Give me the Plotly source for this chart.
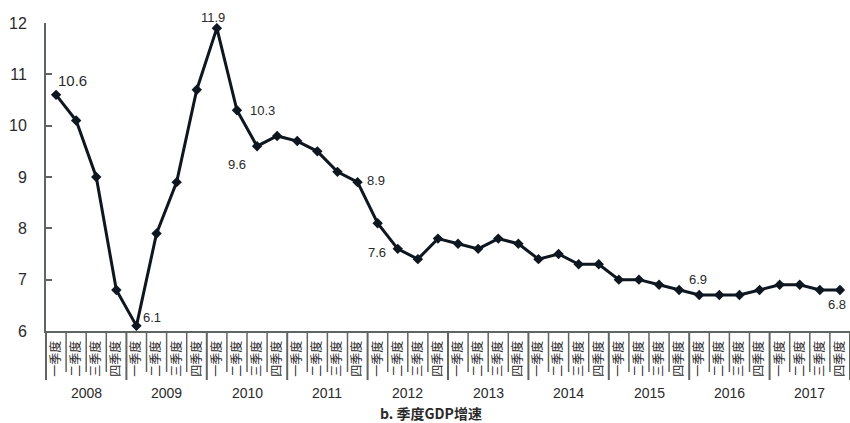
import plotly.graph_objects as go

# Quarterly GDP growth (%), 2008 Q1 – 2017 Q4
years = ["2008", "2009", "2010", "2011", "2012", "2013", "2014", "2015", "2016", "2017"]
quarters = ["一季度", "二季度", "三季度", "四季度"]
growth = [
    10.6, 10.1, 9.0, 6.8,
    6.1, 7.9, 8.9, 10.7,
    11.9, 10.3, 9.6, 9.8,
    9.7, 9.5, 9.1, 8.9,
    8.1, 7.6, 7.4, 7.8,
    7.7, 7.6, 7.8, 7.7,
    7.4, 7.5, 7.3, 7.3,
    7.0, 7.0, 6.9, 6.8,
    6.7, 6.7, 6.7, 6.8,
    6.9, 6.9, 6.8, 6.8,
]
# (index of quarter, shown text, x offset px, y offset px)
labelled = [
    (0, "10.6", 16, 14),
    (4, "6.1", 16, 8),
    (8, "11.9", -4, 11),
    (9, "10.3", 26, 0),
    (10, "9.6", -20, -18),
    (15, "8.9", 18, 2),
    (17, "7.6", -21, -4),
    (30, "6.9", 39, 5),
    (39, "6.8", -3, -15),
]

n = len(growth)
idx = list(range(n))
tick_text = [q for _ in years for q in quarters]

W, H = 850, 423
ML, MR, MT, MB = 46, 0, 23, 92
plot_h = H - MT - MB

grey = "#5f6662"
ink = "#2a2a2a"

fig = go.Figure()
fig.add_trace(go.Scatter(
    x=idx, y=growth, mode="lines+markers",
    line=dict(color="#0e1620", width=3),
    marker=dict(symbol="diamond", size=8, color="#0e1620"),
    hoverinfo="skip", showlegend=False,
))

annotations = []
for i, txt, dx, dy in labelled:
    annotations.append(dict(
        x=i, y=growth[i], xref="x", yref="y", text=txt, showarrow=False,
        xshift=dx, yshift=dy, xanchor="center", yanchor="middle",
        font=dict(family="Liberation Sans, Arial", size=15 if i == 0 else 13, color=ink),
    ))

# year labels below the quarter cells
def px_to_paper_y(py):
    return (H - MB - py) / plot_h

for k, yr in enumerate(years):
    annotations.append(dict(
        x=(4 * k + 2) / n, y=px_to_paper_y(393), xref="paper", yref="paper",
        text=yr, showarrow=False, xanchor="center", yanchor="middle",
        font=dict(family="Liberation Sans, Arial", size=14, color=ink),
    ))

annotations.append(dict(
    x=(431 - ML) / (W - ML - MR), y=px_to_paper_y(413), xref="paper", yref="paper",
    text="<b>b. 季度GDP增速</b>", showarrow=False, xanchor="center", yanchor="middle",
    font=dict(family="Noto Sans CJK SC", size=14, color=ink),
))

# cell separators: short ones between quarters, longer ones between years
shapes = []
for k in range(n + 1):
    is_year = (k % 4 == 0)
    bottom = 380 if is_year else 372
    shapes.append(dict(
        type="line", xref="paper", yref="paper",
        x0=k / n, x1=k / n, y0=0, y1=px_to_paper_y(bottom),
        line=dict(color=grey, width=2 if is_year else 1.5),
    ))

fig.update_layout(
    width=W, height=H,
    margin=dict(l=ML, r=MR, t=MT, b=MB),
    paper_bgcolor="white", plot_bgcolor="white",
    showlegend=False,
    annotations=annotations,
    shapes=shapes,
    xaxis=dict(
        range=[-0.5, n - 0.5], tickmode="array", tickvals=idx, ticktext=tick_text,
        tickangle=-90, ticks="", showgrid=False, zeroline=False,
        showline=True, linecolor=grey, linewidth=2,
        tickfont=dict(family="Noto Sans CJK SC", size=12, color=ink),
        ticklabelstandoff=3,
    ),
    yaxis=dict(
        range=[6, 12], tickmode="array", tickvals=[6, 7, 8, 9, 10, 11, 12],
        ticks="inside", ticklen=6, tickwidth=2, tickcolor=grey,
        showgrid=False, zeroline=False,
        showline=True, linecolor=grey, linewidth=2,
        tickfont=dict(family="Liberation Sans, Arial", size=16, color=ink),
        ticklabelstandoff=14,
    ),
)

fig.write_html("out.html")
